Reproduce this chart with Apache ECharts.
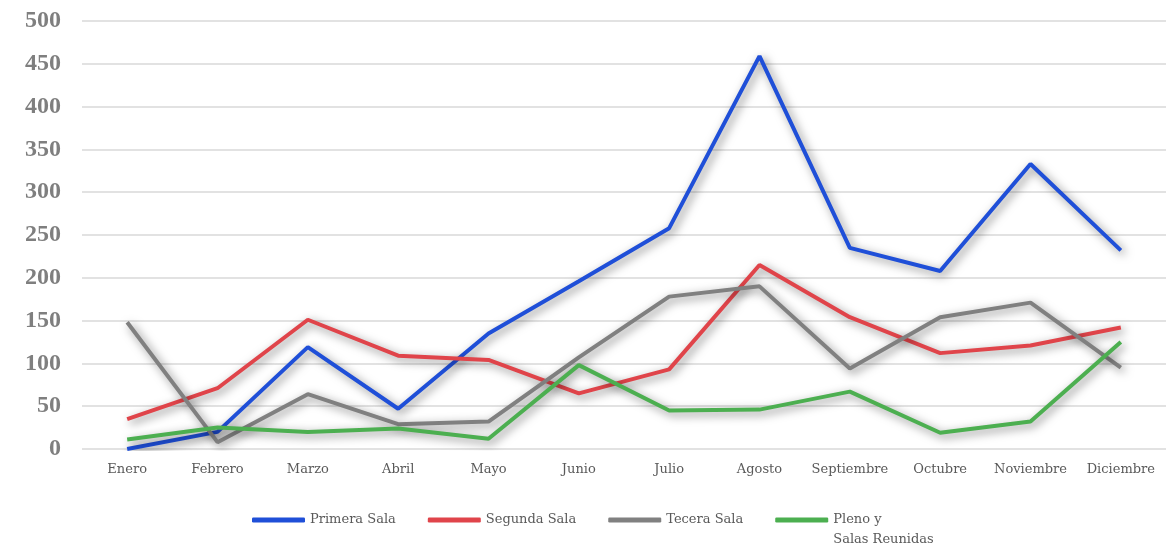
<!DOCTYPE html>
<html>
<head>
<meta charset="utf-8">
<script src="https://cdn.jsdelivr.net/npm/echarts@6/dist/echarts.min.js"></script>
<style>
  html, body { margin: 0; padding: 0; background: #fff; }
  #chart { width: 1166px; height: 545px; }
</style>
</head>
<body>
<div id="chart"></div>
<script>
// meses del eje x
const meses = ['Enero', 'Febrero', 'Marzo', 'Abril', 'Mayo', 'Junio', 'Julio',
  'Agosto', 'Septiembre', 'Octubre', 'Noviembre', 'Diciembre'];

// valores por sala
const primeraSala = [0, 20, 119, 47, 135, 196, 258, 459, 235, 208, 333, 232];
const segundaSala = [35, 71, 151, 109, 104, 65, 93, 215, 154, 112, 121, 142];
const teceraSala = [148, 8, 64, 29, 32, 107, 178, 190, 94, 154, 171, 95];
const plenoSalas = [11, 25, 20, 24, 12, 98, 45, 46, 67, 19, 32, 125];

const serif = '"DejaVu Serif", "Liberation Serif", serif';

// estilo comun de las lineas con sombra
function serie(name, data, color) {
  return {
    name: name,
    type: 'line',
    data: data,
    symbol: 'none',
    lineStyle: {
      width: 4,
      color: color,
      shadowColor: 'rgba(0,0,0,0.5)',
      shadowBlur: 10,
      shadowOffsetX: 3,
      shadowOffsetY: 3
    },
    itemStyle: { color: color }
  };
}

const chart = echarts.init(document.getElementById('chart'));
chart.setOption({
  animation: false,
  grid: { left: 82, right: 0, top: 21, bottom: 96 },
  legend: {
    top: 490,
    left: 252,
    padding: 0,
    itemWidth: 53,
    itemHeight: 5,
    itemGap: 32,
    icon: 'roundRect',
    textStyle: { fontFamily: serif, fontSize: 13, color: '#595959', lineHeight: 20 },
    // linea vacia arriba para que "Pleno y" quede a la altura del icono
    formatter: function (name) {
      return name.indexOf('\n') >= 0 ? ' \n' + name : name;
    },
    data: ['Primera Sala', 'Segunda Sala', 'Tecera Sala', 'Pleno y\nSalas Reunidas']
  },
  xAxis: {
    type: 'category',
    data: meses,
    boundaryGap: true,
    axisLine: { show: false },
    axisTick: { show: false },
    axisLabel: { fontFamily: serif, fontSize: 13, color: '#595959', margin: 14, interval: 0 }
  },
  yAxis: {
    type: 'value',
    min: 0,
    max: 500,
    interval: 50,
    axisLine: { show: false },
    axisTick: { show: false },
    axisLabel: { fontFamily: '"Liberation Serif", serif', fontSize: 24, fontWeight: 'bold', color: '#7f7f7f', margin: 21 },
    splitLine: { lineStyle: { color: '#d9d9d9', width: 1.5 } }
  },
  series: [
    serie('Primera Sala', primeraSala, '#1f4fd8'),
    serie('Segunda Sala', segundaSala, '#e0444a'),
    serie('Tecera Sala', teceraSala, '#808080'),
    serie('Pleno y\nSalas Reunidas', plenoSalas, '#4caf50')
  ]
});
</script>
</body>
</html>
